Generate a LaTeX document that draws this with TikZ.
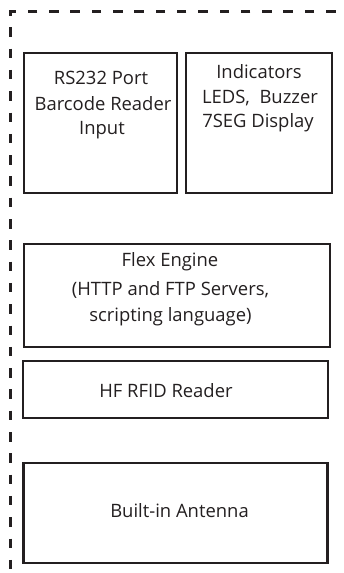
\documentclass[tikz,border=0pt]{standalone}
\usepackage{fontspec}
\setmainfont{Open Sans}
\definecolor{ink}{HTML}{231F20}
\begin{document}
\begin{tikzpicture}[x=1bp,y=-1bp,
  box/.style={draw=ink,line width=2.2bp,inner sep=0pt,rectangle},
  txt/.style={anchor=base,inner sep=0pt,text=ink,font=\fontsize{18.5}{24}\selectfont}]
\useasboundingbox (0,0) rectangle (343,573);
% dashed enclosure
\coordinate (tr) at (345,12);
\coordinate (tl) at (10,12);
\coordinate (bl) at (10,575);
\draw[ink,line width=3bp,dash pattern=on 9.5bp off 11.8bp,dash phase=11.8bp] (tr) -- (tl) -- (bl);
% boxes
\node[box,minimum width=153bp,minimum height=140bp] (rs) at (100.5,123) {};
\node[box,minimum width=146bp,minimum height=140bp] (ind) at (259,123) {};
\node[box,minimum width=306bp,minimum height=103bp] (flex) at (177,295.5) {};
\node[box,minimum width=305bp,minimum height=57bp] (hf) at (175.5,389.5) {};
\node[box,minimum width=304bp,minimum height=100bp] (ant) at (175.5,513) {};
% texts
\node[txt] (rs1) at (101,85) {RS232 Port};
\node[txt] (rs2) at (103,111) {Barcode Reader};
\node[txt] (rs3) at (102,135) {Input};
\node[txt] (ind1) at (259,79) {Indicators};
\node[txt] (ind2) at (260,104) {LEDS,\ \ Buzzer};
\node[txt] (ind3) at (258,128) {7SEG Display};
\node[txt] (fl1) at (170,266) {Flex Engine};
\node[txt] (fl2) at (170.5,295) {(HTTP and FTP Servers,};
\node[txt] (fl3) at (170.5,321) {scripting language)};
\node[txt] (hf1) at (166,397) {HF RFID Reader};
\node[txt] (an1) at (179.5,517) {Built-in Antenna};
\end{tikzpicture}
\end{document}
